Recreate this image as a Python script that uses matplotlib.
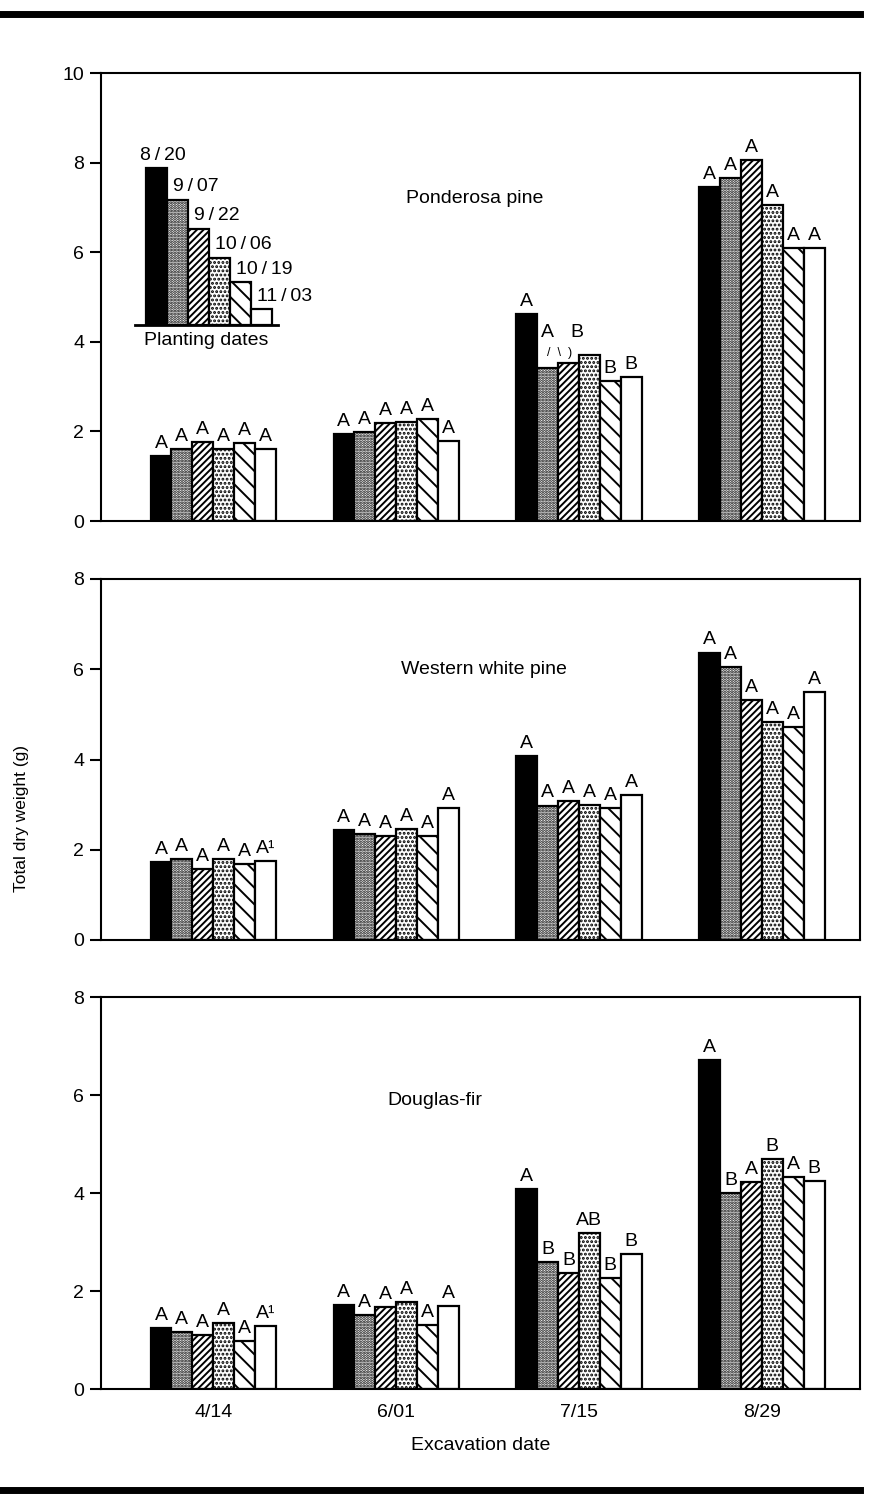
import numpy as np
import matplotlib
matplotlib.use("Agg")
import matplotlib.pyplot as plt
from matplotlib.lines import Line2D

plt.rcParams['font.family'] = ['Liberation Sans', 'DejaVu Sans']
plt.rcParams['hatch.linewidth'] = 1.4

# Data
excavation_dates = ["4/14", "6/01", "7/15", "8/29"]
planting_dates = ["8/20", "9/07", "9/22", "10/06", "10/19", "11/03"]

# rows = planting date, cols = excavation date
ponderosa = [
    [1.45, 1.94, 4.62, 7.45],
    [1.60, 1.99, 3.42, 7.65],
    [1.76, 2.18, 3.53, 8.05],
    [1.60, 2.21, 3.70, 7.05],
    [1.73, 2.28, 3.12, 6.10],
    [1.60, 1.78, 3.21, 6.10],
]
# the 7/15 "A B" pair is written separately, higher up
ponderosa_letters = [
    ["A", "A", "A", "A"],
    ["A", "A", "", "A"],
    ["A", "A", "", "A"],
    ["A", "A", "", "A"],
    ["A", "A", "B", "A"],
    ["A", "A", "B", "A"],
]

white_pine = [
    [1.73, 2.43, 4.07, 6.37],
    [1.79, 2.34, 2.98, 6.04],
    [1.57, 2.30, 3.07, 5.31],
    [1.79, 2.45, 2.99, 4.82],
    [1.68, 2.30, 2.92, 4.71],
    [1.75, 2.92, 3.21, 5.49],
]
white_pine_letters = [
    ["A", "A", "A", "A"],
    ["A", "A", "A", "A"],
    ["A", "A", "A", "A"],
    ["A", "A", "A", "A"],
    ["A", "A", "A", "A"],
    ["A¹", "A", "A", "A"],
]

douglas_fir = [
    [1.24, 1.71, 4.08, 6.71],
    [1.16, 1.51, 2.59, 4.00],
    [1.10, 1.67, 2.37, 4.22],
    [1.35, 1.78, 3.18, 4.69],
    [0.98, 1.31, 2.27, 4.33],
    [1.29, 1.69, 2.76, 4.24],
]
douglas_fir_letters = [
    ["A", "A", "A", "A"],
    ["A", "A", "B", "B"],
    ["A", "A", "B", "A"],
    ["A", "A", "AB", "B"],
    ["A", "A", "B", "A"],
    ["A¹", "A", "B", "B"],
]

# heights of the little legend bars (staircase)
legend_heights = [3.5, 2.8, 2.15, 1.5, 0.95, 0.35]

# bar styles per planting date
styles = [
    dict(facecolor="black", hatch=None),
    dict(facecolor="white", hatch="......"),
    dict(facecolor="white", hatch="/////"),
    dict(facecolor="white", hatch="...."),
    dict(facecolor="white", hatch="\\\\"),
    dict(facecolor="white", hatch=None),
]

FS = 14
W, H = 875, 1501
fig = plt.figure(figsize=(W / 100, H / 100), dpi=100)


def px_axes(left, right, top, bottom):
    return fig.add_axes([left / W, 1 - bottom / H, (right - left) / W, (bottom - top) / H])


bar_w = 0.114
x = np.arange(len(excavation_dates))


def draw_panel(ax, values, letters, ymax, title, title_pos):
    for i in range(len(planting_dates)):
        xs = x + (i - 2.5) * bar_w
        st = styles[i]
        ax.bar(xs, values[i], width=bar_w, facecolor=st["facecolor"],
               edgecolor="black", linewidth=1.6, hatch=st["hatch"], zorder=2)
        for xv, yv, lab in zip(xs, values[i], letters[i]):
            if lab:
                ax.annotate(lab, (xv, yv), xytext=(0, 3), textcoords="offset points",
                            ha="center", va="bottom", fontsize=FS)
    ax.set_xlim(-0.613, 3.536)
    ax.set_ylim(0, ymax)
    ax.set_yticks(np.arange(0, ymax + 1, 2))
    ax.tick_params(axis="y", direction="out", length=8, width=1.5, labelsize=FS, pad=4)
    ax.tick_params(axis="x", length=0)
    ax.set_xticks(x)
    ax.set_xticklabels([])
    for s in ax.spines.values():
        s.set_linewidth(1.5)
    ax.text(title_pos[0], title_pos[1], title, transform=ax.transAxes,
            ha="center", va="center", fontsize=FS)


ax1 = px_axes(101, 860, 73, 521)
draw_panel(ax1, ponderosa, ponderosa_letters, 10, "Ponderosa pine", (0.493, 0.72))
# 7/15: "A B" letters above the dense, hatched and stippled bars, with the odd marks below
ax1.text(2 - 1.5 * bar_w, 4.02, "A", ha="center", va="bottom", fontsize=FS)
ax1.text(2 - 0.1 * bar_w, 4.02, "B", ha="center", va="bottom", fontsize=FS)
ax1.text(2 - 1.55 * bar_w, 3.62, "/  \\  )", ha="left", va="bottom", fontsize=9)

ax2 = px_axes(101, 860, 579, 940)
draw_panel(ax2, white_pine, white_pine_letters, 8, "Western white pine", (0.505, 0.75))

ax3 = px_axes(101, 860, 997, 1389)
draw_panel(ax3, douglas_fir, douglas_fir_letters, 8, "Douglas-fir", (0.44, 0.737))
ax3.set_xticklabels(excavation_dates, fontsize=FS)
ax3.tick_params(axis="x", pad=11)
ax3.set_xlabel("Excavation date", fontsize=FS, labelpad=11)

fig.text(22 / W, 1 - 818 / H, "Total dry weight (g)", rotation=90,
         ha="center", va="center", fontsize=12.5)

# planting date legend drawn as a small staircase of bars
ins = ax1.inset_axes([(135 - 101) / 759, (521 - 325) / 448,
                      (278 - 135) / 759, (325 - 140) / 448])
lx = np.arange(len(planting_dates))
for i in range(len(planting_dates)):
    st = styles[i]
    ins.bar(lx[i], legend_heights[i], width=1.0, facecolor=st["facecolor"],
            edgecolor="black", linewidth=1.6, hatch=st["hatch"])
    lab = planting_dates[i].replace("/", "\u2009/\u2009")
    if i == 0:
        ins.text(lx[i] + 0.3, legend_heights[i] + 0.1, lab,
                 ha="center", va="bottom", fontsize=FS)
    else:
        ins.text(lx[i] - 0.2, legend_heights[i] + 0.1, lab,
                 ha="left", va="bottom", fontsize=FS)
ins.set_xlim(-1.02, 5.79)
ins.set_ylim(0, 4.13)
ins.set_xticks([])
ins.set_yticks([])
for side in ["top", "right", "left"]:
    ins.spines[side].set_visible(False)
ins.spines["bottom"].set_linewidth(2)
ins.patch.set_alpha(0)
ins.text(0.5, -0.04, "Planting dates", transform=ins.transAxes,
         ha="center", va="top", fontsize=FS)

# heavy rules above and below the figure
fig.add_artist(Line2D([0, 860 / W], [1 - 14 / H, 1 - 14 / H], color="black", linewidth=5))
fig.add_artist(Line2D([0, 860 / W], [1 - 1490 / H, 1 - 1490 / H], color="black", linewidth=5))

fig.savefig("out.png", dpi=100)
